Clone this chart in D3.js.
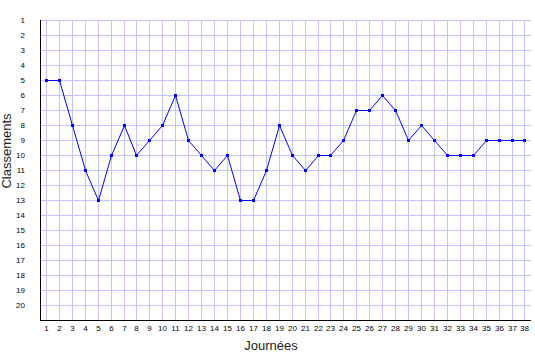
<!DOCTYPE html>
<html>
<head>
<meta charset="utf-8">
<script src="https://cdn.jsdelivr.net/npm/d3@7/dist/d3.min.js"></script>
<style>
html,body{margin:0;padding:0;background:#fff;}
svg{display:block;font-family:"Liberation Sans",Arial,sans-serif;}
</style>
</head>
<body>
<script>
const journees = d3.range(1, 39);
const classements = [5,5,8,11,13,10,8,10,9,8,6,9,10,11,10,13,13,11,8,10,11,10,10,9,7,7,6,7,9,8,9,10,10,10,9,9,9,9];
const rangTicks = d3.range(1, 21);
const xTitle = "Journées";
const yTitle = "Classements";

const W = 535, H = 360;
const svg = d3.select("body").append("svg").attr("width", W).attr("height", H);

const x = d3.scaleLinear().domain([0.5, 38.5]).range([39.5, 530.9]).interpolate(d3.interpolateRound);
const y = d3.scaleLinear().domain([1, 21]).range([20, 320]).interpolate(d3.interpolateRound);

const gridColor = "#c4c4ff";

// vertical grid
const gx = svg.append("g").attr("transform", "translate(0,320)")
  .call(d3.axisBottom(x).tickValues(journees).tickSize(-300).tickFormat(""));
gx.select(".domain").remove();
gx.selectAll("line").attr("stroke", gridColor);

// horizontal grid
const gy = svg.append("g").attr("transform", "translate(40,0)")
  .call(d3.axisLeft(y).tickValues(rangTicks).tickSize(-491).tickFormat(""));
gy.select(".domain").remove();
gy.selectAll("line").attr("stroke", gridColor);

// axis labels
const ax = svg.append("g").attr("transform", "translate(0,320)")
  .call(d3.axisBottom(x).tickValues(journees).tickSize(0).tickPadding(5).tickFormat(d3.format("d")));
ax.select(".domain").remove();
ax.selectAll("text").attr("font-size", 8).attr("font-family", "Liberation Sans, Arial, sans-serif").attr("fill", "#000");

const ay = svg.append("g").attr("transform", "translate(40,0)")
  .call(d3.axisLeft(y).tickValues(rangTicks).tickSize(0).tickPadding(15).tickFormat(d3.format("d")));
ay.select(".domain").remove();
ay.selectAll("text").attr("font-size", 8).attr("font-family", "Liberation Sans, Arial, sans-serif").attr("fill", "#000");

// axis lines
svg.append("line").attr("x1", 40.5).attr("x2", 40.5).attr("y1", 20).attr("y2", 321)
  .attr("stroke", "#000").attr("stroke-width", 1);
svg.append("line").attr("x1", 40).attr("x2", 531).attr("y1", 320.5).attr("y2", 320.5)
  .attr("stroke", "#000").attr("stroke-width", 1);

// data line
const data = journees.map((d, i) => ({j: d, c: classements[i]}));
svg.append("path").datum(data)
  .attr("fill", "none").attr("stroke", "#0000ff").attr("stroke-width", 1)
  .attr("d", d3.line().x(d => x(d.j) + 0.5).y(d => y(d.c) + 0.5));

svg.append("g").selectAll("rect").data(data).join("rect")
  .attr("x", d => x(d.j) - 1).attr("y", d => y(d.c) - 1)
  .attr("width", 3).attr("height", 3).attr("fill", "#0000ff");

// titles
svg.append("text").attr("x", 271).attr("y", 350).attr("text-anchor", "middle")
  .attr("font-size", 13).attr("fill", "#222").text(xTitle);
svg.append("text").attr("transform", "translate(11,151) rotate(-90)").attr("text-anchor", "middle")
  .attr("font-size", 13).attr("fill", "#222").text(yTitle);
</script>
</body>
</html>
